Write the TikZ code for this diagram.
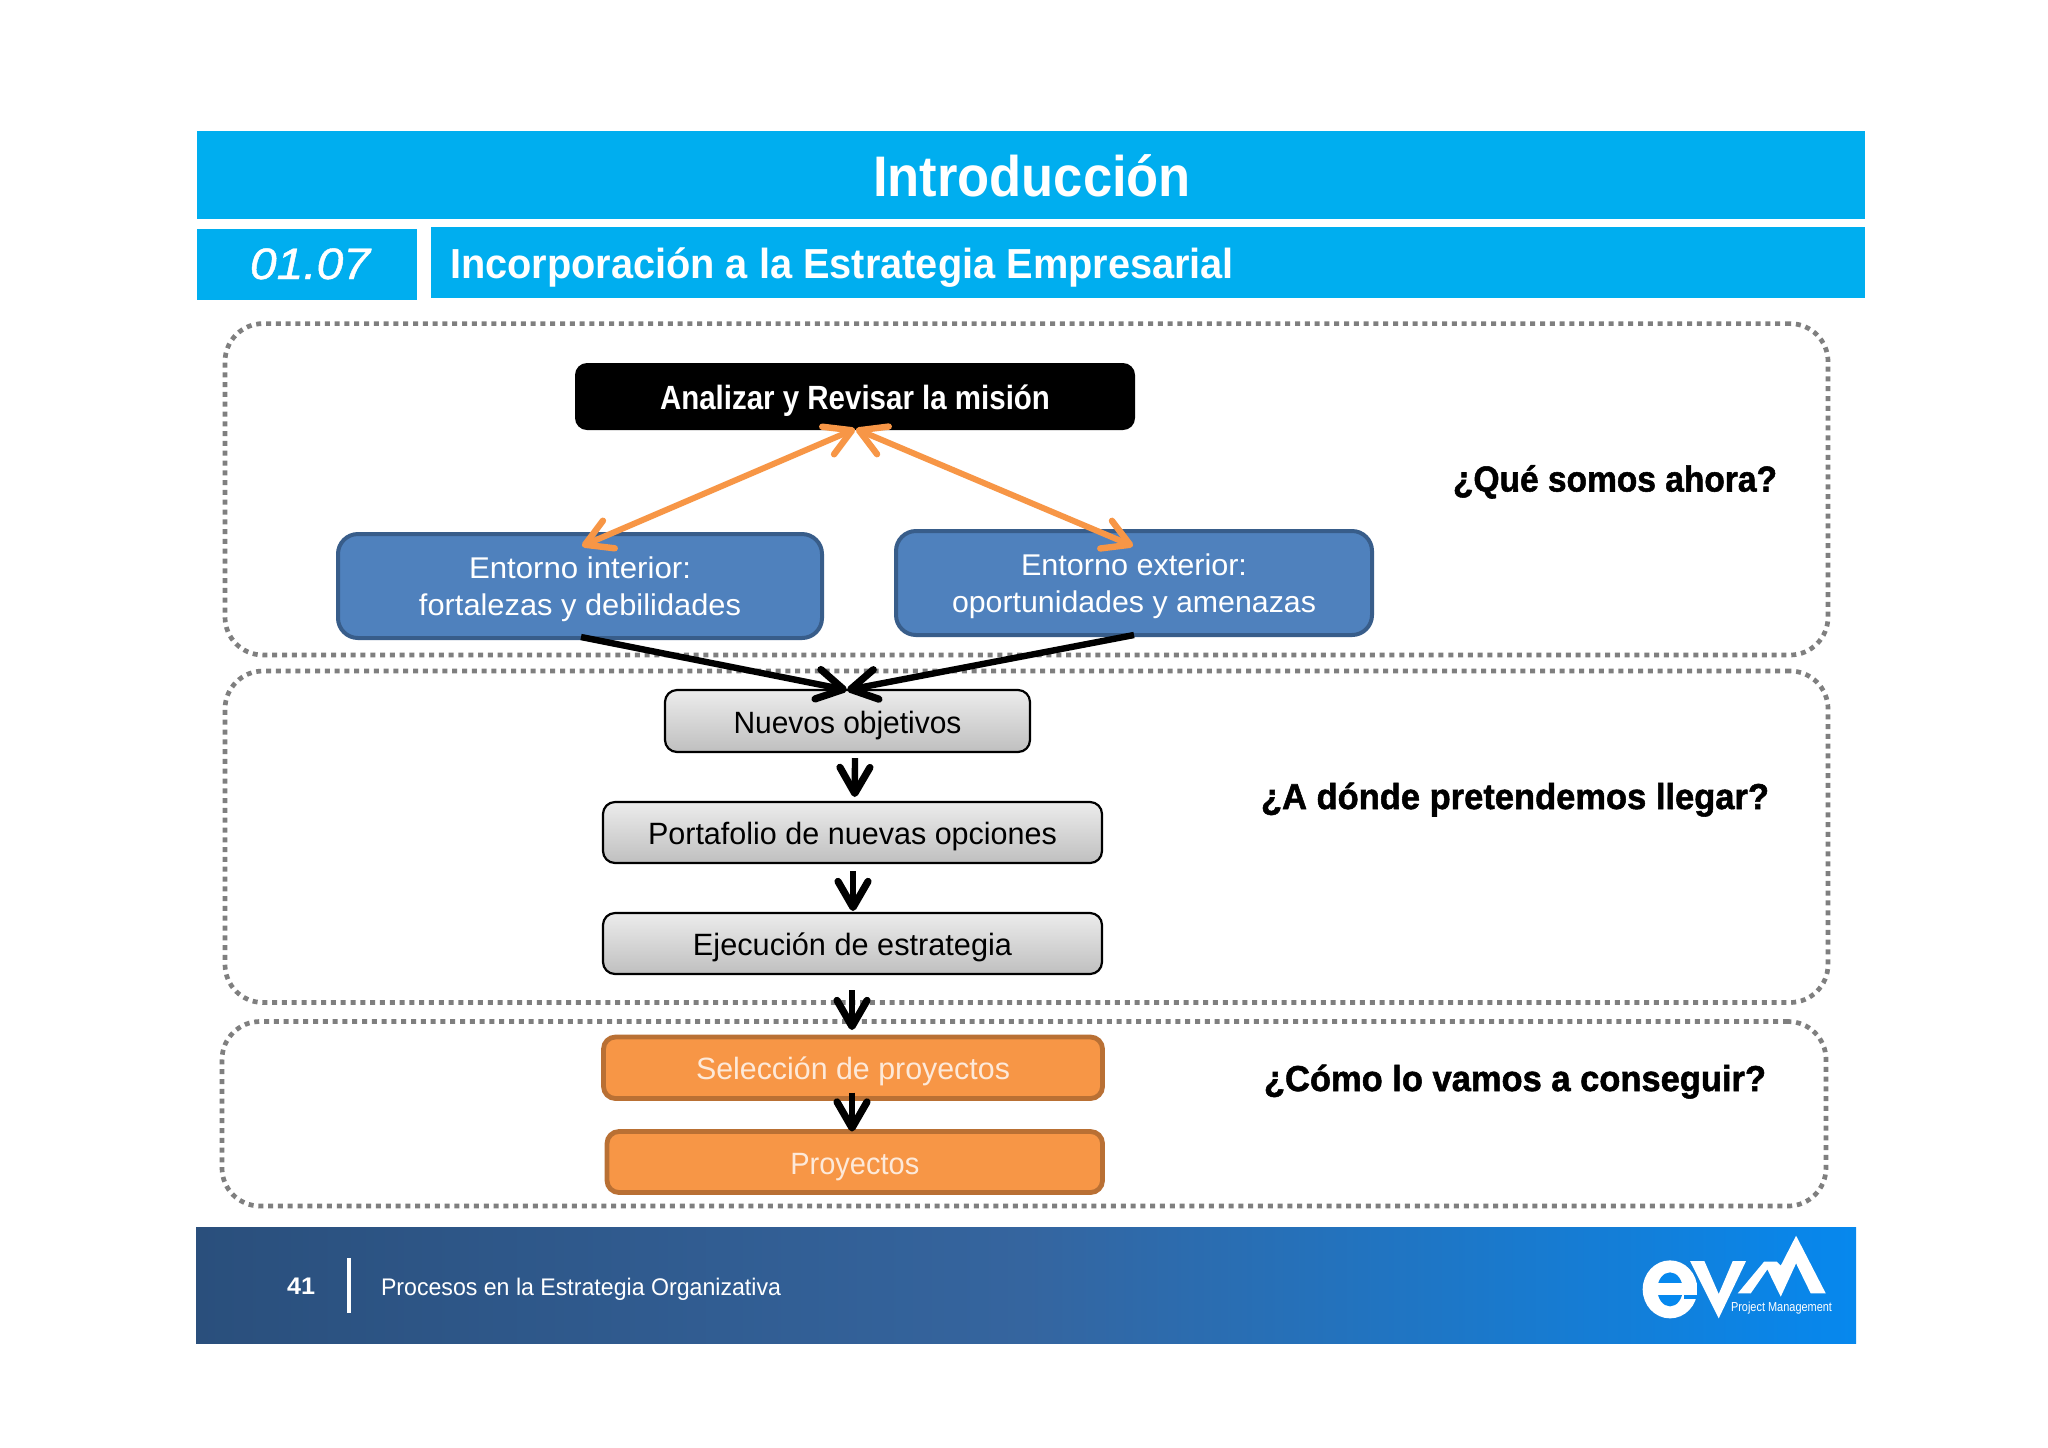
\documentclass[tikz,border=0pt]{standalone}
\usepackage{fontspec}
\usepackage{graphicx}
\setmainfont{Liberation Sans}
\usetikzlibrary{arrows.meta,calc}
\definecolor{hdr}{HTML}{00AEEF}
\definecolor{dashg}{HTML}{7F7F7F}
\definecolor{bluef}{HTML}{4F81BD}
\definecolor{blued}{HTML}{385D8A}
\definecolor{orangef}{HTML}{F79646}
\definecolor{oranged}{HTML}{B97034}
\definecolor{orangetxt}{HTML}{FDE9D9}
\definecolor{arrowo}{HTML}{F79646}
\definecolor{foota}{HTML}{2A4F7C}
\definecolor{footb}{HTML}{35659F}
\definecolor{footc}{HTML}{0688EE}
\newsavebox\twb
% width in px, font size in pt, text
\newcommand\tw[3]{\sbox\twb{\fontsize{#2}{#2}\selectfont #3}\resizebox{\dimexpr#1pt/2\relax}{\ht\twb}{\usebox\twb}}
% name, x1,y1,x2,y2, style, text
\newcommand\bx[7]{\node[#6,minimum width={(#4-#2)*0.5pt},minimum height={(#5-#3)*0.5pt}] (#1) at ({(#2+#4)/2},{(#3+#5)/2}) {#7};}
\tikzset{
  base/.style={inner sep=0pt,outer sep=0pt,rectangle},
  bar/.style={base,fill=hdr},
  zone/.style={base,draw=dashg,line width=2.35pt,dash pattern=on 2.5pt off 2.4pt,rounded corners=19pt},
  blackbox/.style={base,fill=black,rounded corners=6pt,text=white},
  bluebox/.style={base,fill=bluef,draw=blued,line width=2pt,rounded corners=10pt,text=white,align=center,font=\fontsize{15}{18.5}\selectfont},
  graybox/.style={base,draw=black,line width=1.1pt,rounded corners=6pt,top color=gray!15!white,bottom color=gray!50!white,text=black},
  orangebox/.style={base,fill=orangef,draw=oranged,line width=2.4pt,rounded corners=6pt,text=orangetxt},
  lab/.style={inner sep=0pt,outer sep=0pt,anchor=base,text=white},
  ask/.style={inner sep=0pt,outer sep=0pt,anchor=base,text=black,font=\bfseries\addfontfeatures{FakeBold=1.5}},
  blk/.style={draw=black,line width=3.2pt,-{Straight Barb[length=13pt,width=15pt,line width=3.6pt,round]}},
  org/.style={draw=arrowo,line width=3pt,{Straight Barb[length=13pt,width=15pt,line width=3.2pt,round]}-{Straight Barb[length=13pt,width=15pt,line width=3.2pt,round]}},
}
\begin{document}
\begin{tikzpicture}[x=0.5pt,y=-0.5pt]
\useasboundingbox (0,0) rectangle (2048,1447);
\fill[white] (0,0) rectangle (2048,1447);
% header bars
\bx{hdrtop}{196.5}{131}{1865}{219}{bar}{}
\bx{hdrnum}{196.5}{229}{417}{300}{bar}{}
\bx{hdrsub}{431}{227}{1865}{298}{bar}{}
\node[lab] (title) at (1032,196.5) {\bfseries\tw{318}{28.6}{Introducción}};
\node[lab] (num) at (310,279) {\itshape\addfontfeatures{FakeBold=1}\tw{120}{22}{01.07}};
\node[lab,anchor=base west] (sub) at (450,278) {\bfseries\tw{784}{21}{Incorporación a la Estrategia Empresarial}};
% zones
\bx{zonea}{225}{323.6}{1828}{655}{zone}{}
\bx{zoneb}{225}{671}{1828}{1002.5}{zone}{}
\bx{zonec}{222}{1021.5}{1826}{1206}{zone}{}
% top boxes
\bx{mision}{575}{363}{1135}{430}{blackbox,text height=12.5pt,text depth=0pt}{\bfseries\tw{390}{16.8}{Analizar y Revisar la misión}}
\bx{interior}{338}{534}{822}{638}{bluebox,text height=29.7pt,text depth=0pt}{\tw{222}{15}{Entorno interior:}\\\tw{322}{15}{fortalezas y debilidades}}
\bx{exterior}{896}{531}{1372}{635}{bluebox,text height=29.7pt,text depth=0pt}{\tw{226}{15}{Entorno exterior:}\\\tw{364}{15}{oportunidades y amenazas}}
% grey boxes
\bx{nuevos}{665}{690}{1030}{752}{graybox,text height=12pt,text depth=0pt}{\tw{228}{15.4}{Nuevos objetivos}}
\bx{porta}{603}{802}{1102}{863}{graybox,text height=11.5pt,text depth=0pt}{\tw{409}{15.4}{Portafolio de nuevas opciones}}
\bx{ejec}{603}{913}{1102}{974}{graybox,text height=12pt,text depth=0pt}{\tw{319}{15.4}{Ejecución de estrategia}}
% orange boxes
\bx{selec}{603.5}{1037}{1102.5}{1098.5}{orangebox,text height=11.5pt,text depth=0pt}{\tw{314}{15.4}{Selección de proyectos}}
\bx{proy}{607}{1131.5}{1102.5}{1192.5}{orangebox,text height=12pt,text depth=0pt}{\tw{129}{15.4}{Proyectos}}
% questions
\node[ask] (q1) at (1615,491.5) {\tw{324}{18}{¿Qué somos ahora?}};
\node[ask] (q2) at (1515,809) {\tw{508}{18}{¿A dónde pretendemos llegar?}};
\node[ask] (q3) at (1515,1091) {\tw{502}{18}{¿Cómo lo vamos a conseguir?}};
% connectors
\draw[org] ([shift={(2,12)}]interior.north) -- ([shift={(0,-1)}]mision.south);
\draw[org] ([shift={(-1,15)}]exterior.north) -- ([shift={(1,-1)}]mision.south);
\draw[blk] ([shift={(1,-1)}]interior.south) -- ([shift={(-0.5,0)}]nuevos.north);
\draw[blk] ([shift={(0,0)}]exterior.south) -- ([shift={(-0.5,0)}]nuevos.north);
\draw[blk] ([shift={(7.5,6)}]nuevos.south) -- ([shift={(2.25,-5)}]porta.north);
\draw[blk] ([shift={(0.5,8)}]porta.south) -- ([shift={(0.5,-2)}]ejec.north);
\draw[blk] ([shift={(-0.5,16)}]ejec.south) -- ([shift={(-1,-7)}]selec.north);
\draw[blk] ([shift={(-1,-6)}]selec.south) -- ([shift={(-2.75,0)}]proy.north);
% footer
\node[base,minimum width={(1856-196)*0.5pt},minimum height={(1343-1227)*0.5pt},left color=foota,right color=footc,middle color=footb] (foot) at ({(196+1856)/2},1285) {};
\node[lab] (page) at (301,1294) {\bfseries\tw{28}{12}{41}};
\node[base,fill=white,minimum width=2pt,minimum height=27.5pt] (divider) at (349,1285.5) {};
\node[lab,anchor=base west] (foottxt) at (381,1295) {\tw{400}{12}{Procesos en la Estrategia Organizativa}};
% logo
\begin{scope}[shift={(1560,1200)},x=0.1667pt,y=-0.1667pt]
\fill[white] (330,268) ellipse [x radius=82,y radius=87];
\fill[footc] (330,268) ellipse [x radius=38,y radius=51];
\fill[white] (288,250) rectangle (412,284);
\fill[footc] (372,284) rectangle (420,296);
\fill[footc] (412,240) rectangle (420,300);
\fill[white] (390,183) -- (433,183) -- (476,282) -- (518,183) -- (558,183) -- (476,355) -- cycle;
\fill[white] (533,280) -- (572,280) -- (622,208) -- (662,290) -- (708,190) -- (752,280) -- (797,280) -- (708,107) -- (662,197) -- (650,185) -- (612,185) -- cycle;
\end{scope}
\node[lab,anchor=base west] (pm) at (1731,1311) {\tw{101}{6.5}{Project Management}};
\end{tikzpicture}
\end{document}
